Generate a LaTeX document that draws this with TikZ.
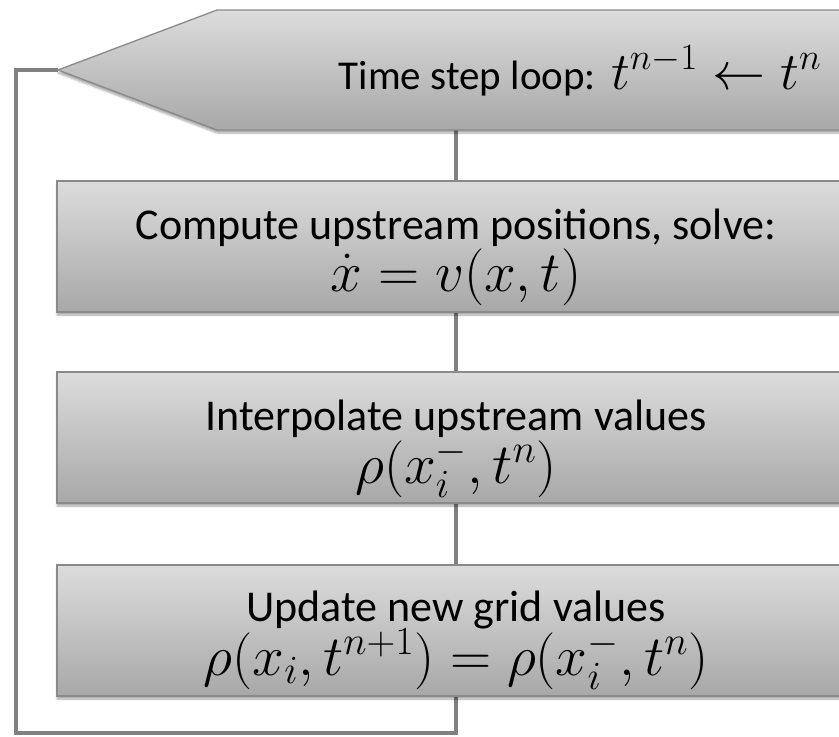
\documentclass[tikz,border=0pt]{standalone}
\usepackage{fix-cm}
\usepackage{fontspec}
\setmainfont{Carlito}
\usetikzlibrary{shadows.blur}
\pgfdeclarelayer{background}
\pgfsetlayers{background,main}
\definecolor{boxtop}{HTML}{DCDCDC}
\definecolor{boxbot}{HTML}{A8A8A8}
\definecolor{edgegray}{HTML}{8A8A8A}
\definecolor{wiregray}{HTML}{808080}
\tikzset{
  softshadow/.style={blur shadow={shadow xshift=0pt, shadow yshift=-3pt,
      shadow opacity=35, shadow blur steps=6}},
  stagebox/.style={rectangle, draw=edgegray, line width=1.3pt,
      top color=boxtop, bottom color=boxbot, softshadow,
      minimum width=798pt, minimum height=131pt, inner sep=0pt},
  headshape/.style={draw=edgegray, line width=1.3pt,
      top color=boxtop, bottom color=boxbot, softshadow},
  wire/.style={draw=wiregray, line width=4pt},
  lbl/.style={anchor=base, inner sep=0pt, font=\fontsize{44}{50}\selectfont},
  eqn/.style={anchor=base, inner sep=0pt, font=\fontsize{57}{60}\selectfont},
}
\begin{document}
\begin{tikzpicture}[x=1pt,y=-1pt]
\useasboundingbox (0,0) rectangle (839,737);
\clip (0,0) rectangle (839,737);

% loop-back path and connection points
\coordinate (tip) at (58,70);
\coordinate (headbot) at (456,130);
\coordinate (cornerA) at (16,70);
\coordinate (cornerB) at (16,733);
\coordinate (cornerC) at (456,733);

% header arrow shape
\path[headshape] (tip) -- (217,10) -- (880,10) -- (880,130) -- (217,130) -- cycle;

% process boxes
\node[stagebox] (b1) at (456,246.5) {};
\node[stagebox] (b2) at (456,437.5) {};
\node[stagebox] (b3) at (456,630.5) {};

% connectors, behind the shapes
\begin{pgfonlayer}{background}
\draw[wire] (tip) -- (cornerA) -- (cornerB) -- (cornerC) -- (b3.south);
\draw[wire] (headbot) -- (b1.north);
\draw[wire] (b1.south) -- (b2.north);
\draw[wire] (b2.south) -- (b3.north);
\end{pgfonlayer}

% labels
\node[anchor=base east, inner sep=0pt, font=\fontsize{41}{46}\selectfont] (h)
  at (596,89) {Time step loop:};
\node[anchor=base west, inner sep=0pt, font=\fontsize{53}{58}\selectfont] (hm)
  at (611,89) {$t^{n-1}\leftarrow t^n$};
\node[lbl] (b1t) at (456,239) {Compute upstream positions, solve:};
\node[eqn] (b1m) at (456,291) {$\dot{x} = v(x,t)$};
\node[lbl] (b2t) at (456,430) {Interpolate upstream values};
\node[eqn] (b2m) at (456,483) {$\rho(x_i^-,t^n)$};
\node[lbl] (b3t) at (456,621) {Update new grid values};
\node[eqn] (b3m) at (456,675) {$\rho(x_i,t^{n+1}) = \rho(x_i^-,t^n)$};
\end{tikzpicture}
\end{document}
